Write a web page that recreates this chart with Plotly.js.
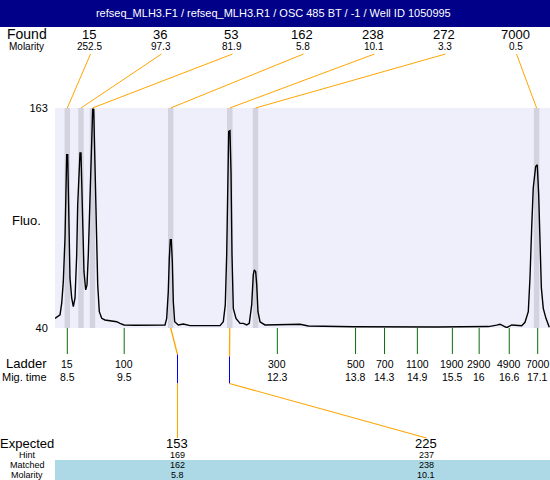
<!DOCTYPE html>
<html>
<head>
<meta charset="utf-8">
<script src="https://cdn.plot.ly/plotly-3.0.1.min.js"></script>
<style>html,body{margin:0;padding:0;background:#fff;}#chart{width:550px;height:480px;}</style>
</head>
<body>
<div id="chart"></div>
<script>
// ---------- data ----------
const titleText = "refseq_MLH3.F1 / refseq_MLH3.R1 / OSC 485 BT / -1 / Well ID 1050995";

// electropherogram (migration time in min, fluorescence)
const migTime = [8.275,8.367,8.398,8.427,8.458,8.476,8.489,8.507,8.518,8.531,8.549,8.580,8.610,8.641,8.672,8.690,8.714,8.732,8.750,8.763,8.782,8.805,8.836,8.860,8.884,8.910,8.933,8.952,8.964,8.983,8.994,9.012,9.030,9.056,9.085,9.129,9.189,9.312,9.403,9.463,9.537,9.738,10.012,10.195,10.286,10.317,10.346,10.365,10.383,10.401,10.420,10.438,10.463,10.529,10.621,10.743,11.292,11.352,11.388,11.414,11.432,11.451,11.474,11.493,11.511,11.535,11.584,11.658,11.718,11.780,11.827,11.871,11.900,11.919,11.944,11.963,11.986,12.023,12.114,12.206,12.389,12.754,12.906,13.729,15.253,15.985,16.200,16.350,16.411,16.533,16.625,16.807,16.868,16.928,16.959,16.990,17.019,17.063,17.092,17.118,17.142,17.167,17.202,17.251,17.312];
const fluo    = [45.4,47.3,54.0,65.9,90.4,121.9,136.9,136.9,116.3,90.4,68.0,56.8,51.9,56.8,80.9,108.9,131.3,137.8,137.8,121.9,93.9,71.5,61.3,64.1,80.9,108.9,136.9,161.1,162.6,162.1,146.4,118.4,90.4,64.1,49.1,45.4,44.5,43.9,43.5,42.6,41.7,41.5,41.4,41.7,41.7,45.4,60.3,79.0,89.3,89.3,77.1,54.7,43.5,41.7,42.2,41.3,41.3,43.5,52.9,80.9,118.2,149.9,150.3,127.5,80.9,51.0,45.4,42.6,42.6,41.7,42.6,52.9,69.7,72.5,71.5,64.1,49.1,43.5,41.7,41.7,42.1,42.1,41.1,40.7,40.6,41.0,40.8,41.6,42.1,40.2,41.7,41.3,43.2,49.1,68.0,96.0,118.4,130.3,131.3,114.5,86.5,62.4,51.0,45.4,40.4];

const yTickVals = [40, 163];

// found peaks
const foundSize = ["15","36","53","162","238","272","7000"];
const foundMolarity = ["252.5","97.3","81.9","5.8","10.1","3.3","0.5"];
const foundTime = [8.50, 8.75, 8.96, 10.39, 11.47, 11.94, 17.08];

// ladder
const ladderSize = ["15","100","300","500","700","1100","1900","2900","4900","7000"];
const ladderTime = [8.50, 9.54, 12.34, 13.77, 14.30, 14.90, 15.54, 16.03, 16.58, 17.10];
const ladderTimeLabel = ["8.5","9.5","12.3","13.8","14.3","14.9","15.5","16","16.6","17.1"];

// expected / matched
const expectedSize = ["153","225"];
const hintSize = ["169","237"];
const matchedSize = ["162","238"];
const matchedMolarity = ["5.8","10.1"];

// ---------- layout helpers ----------
const X0 = 8.275, X1 = 17.325;           // x-axis range (min)
const L = 55, T = 108, W = 495, H = 220; // plot area in px
const tx = t => (t - X0) / (X1 - X0);    // data x -> paper
const px = p => (p - L) / W;             // pixel x -> paper
const py = p => (T + H - p) / H;         // pixel y -> paper
const FONT = "Liberation Sans, Arial, sans-serif";
const ORANGE = "#ffa500", GREEN = "#0b6b0b", BLUE = "#0000ff";

const shapes = [];
const annotations = [];
const txt = (text, x, y, size, xref) => annotations.push({text:text, xref:xref || "paper", yref:"paper", x:x, y:y,
  showarrow:false, xanchor:"center", yanchor:"middle", borderpad:0, font:{size:size, family:FONT, color:"#000"}});
const seg = (x0, y0, x1, y1, color, width) => shapes.push({type:"line", xref:"paper", yref:"paper",
  x0:x0, y0:y0, x1:x1, y1:y1, line:{color:color, width:width}, layer:"above"});

// title bar
shapes.push({type:"rect", xref:"paper", yref:"paper", x0:px(0), x1:px(550), y0:py(27), y1:py(0),
  fillcolor:"#000088", line:{width:0}, layer:"above"});

// peak bands
foundTime.forEach(t => shapes.push({type:"rect", xref:"x", yref:"paper", x0:t-0.05, x1:t+0.05, y0:0, y1:1,
  fillcolor:"#d3d3e0", line:{width:0}, layer:"below"}));

// found labels and connectors
txt("Found", px(26.5), py(34.3), 14);
txt("Molarity", px(26.5), py(47), 10);
foundSize.forEach((s, i) => {
  const lx = 89 + 71 * i;
  txt(s, px(lx), py(34.3), 13);
  txt(foundMolarity[i], px(lx + 0.5), py(47), 10);
  seg(px(lx + 1.5), py(54), tx(foundTime[i]), 1, ORANGE, 1);
});

// y label
txt("Fluo.", px(26.7), py(220), 13);

// ladder
txt("Ladder", px(26.5), py(363.5), 13);
txt("Mig. time", px(24.5), py(376.5), 11);
ladderTime.forEach((t, i) => {
  shapes.push({type:"line", xref:"x", yref:"paper", x0:t, x1:t, y0:0, y1:py(354),
    line:{color:GREEN, width:1}});
  txt(ladderSize[i], t, py(363.5), 10.5, "x");
  txt(ladderTimeLabel[i], t, py(376.5), 10.5, "x");
});

// expected / matched routing (crisp pixel-centred verticals)
const expectedPx = [177.5, 426.5];
const routePx = [177.5, 229.5];
const kneeTop = [354.5, 356.5];
matchedSize.forEach((m, i) => {
  const t = foundTime[foundSize.indexOf(m)];
  seg(tx(t), 0, px(routePx[i]), py(kneeTop[i]), ORANGE, 1.3);
  seg(px(routePx[i]), py(kneeTop[i]), px(routePx[i]), py(383.5), BLUE, 1);
  seg(px(routePx[i]), py(383.5), px(expectedPx[i]), py(438), ORANGE, 1.1);
});

// matched band
shapes.push({type:"rect", xref:"paper", yref:"paper", x0:px(55), x1:px(550), y0:py(480), y1:py(460),
  fillcolor:"#add8e6", line:{width:0}, layer:"below"});

const rowLabels = [["Expected",443.5,13],["Hint",455,9],["Matched",465,9],["Molarity",474.5,9]];
rowLabels.forEach(r => txt(r[0], px(27), py(r[1]), r[2]));
expectedSize.forEach((e, i) => {
  const rows = [[e,443.5,13],[hintSize[i],455,9],[matchedSize[i],465,9],[matchedMolarity[i],474.5,9]];
  rows.forEach(r => txt(r[0], px(expectedPx[i] - 0.3), py(r[1]), r[2]));
});

const trace = {x:migTime, y:fluo, type:"scatter", mode:"lines", line:{color:"#000", width:1.4}, hoverinfo:"skip"};

const layout = {
  width:550, height:480, autosize:false,
  margin:{l:L, r:0, t:T, b:480-T-H, pad:0},
  paper_bgcolor:"#ffffff", plot_bgcolor:"#efeffc",
  showlegend:false,
  title:{text:titleText, font:{color:"#ffffff", size:11, family:FONT}, x:0.497, xanchor:"center",
         xref:"container", yref:"container", y:1-13.5/480, yanchor:"middle"},
  xaxis:{range:[X0, X1], showgrid:false, zeroline:false, showline:false, showticklabels:false, ticks:"", fixedrange:true},
  yaxis:{range:[40, 163], tickvals:yTickVals, ticktext:yTickVals.map(String), showgrid:false, zeroline:false,
         showline:false, ticks:"outside", ticklen:4, tickcolor:"rgba(0,0,0,0)", tickfont:{size:11, family:FONT, color:"#000"},
         fixedrange:true},
  shapes:shapes, annotations:annotations
};

Plotly.newPlot("chart", [trace], layout, {displayModeBar:false, staticPlot:true});
</script>
</body>
</html>
